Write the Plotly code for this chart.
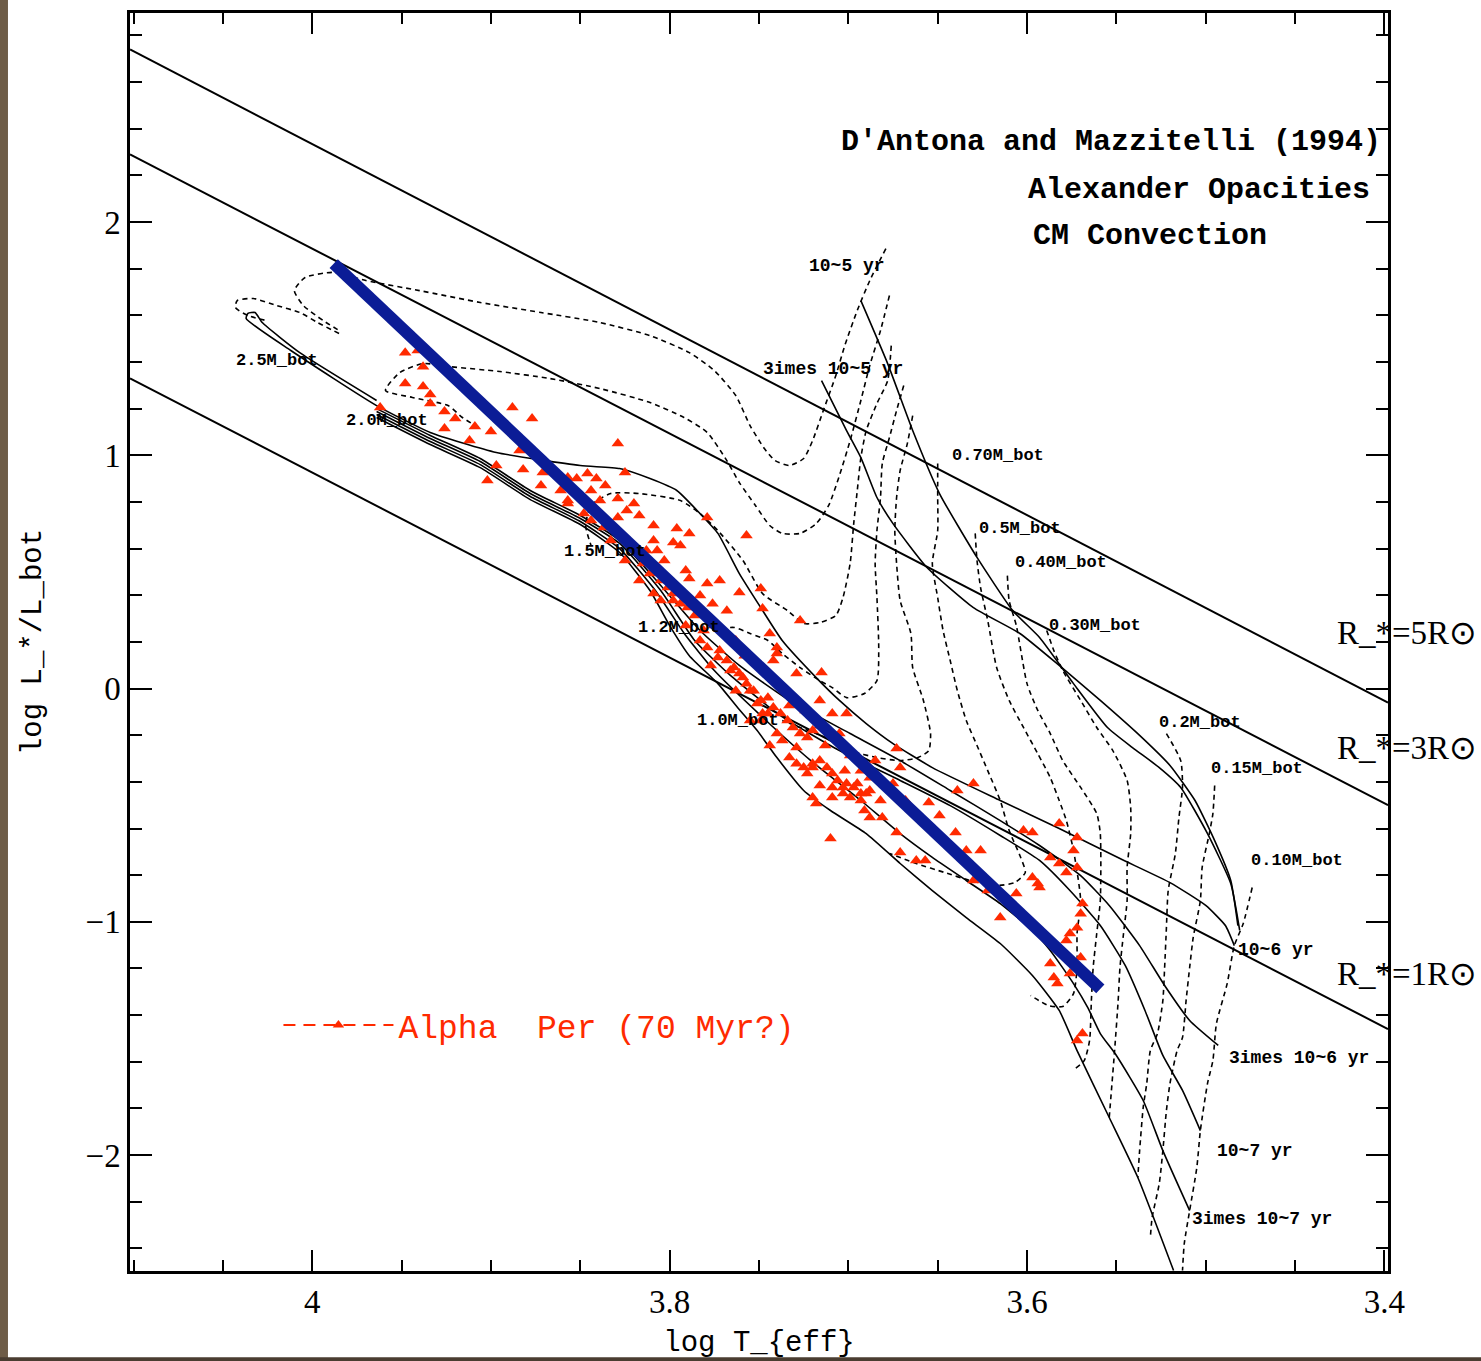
import plotly.graph_objects as go

# ---------------- data (log Teff, log L/Lsun) ----------------
# Alpha Per members
alpha_logT = [3.948,3.941,3.938,3.948,3.938,3.934,3.934,3.926,3.926,3.909,3.900,3.888,3.877,3.962,3.884,3.882,3.871,3.897,3.902,3.857,
              3.852,3.857,3.846,3.841,3.825,3.829,3.857,3.848,3.844,3.839,3.829,3.824,3.820,3.829,3.837,3.809,3.796,3.789,3.779,3.757,
              3.798,3.794,3.809,3.807,3.813,3.815,3.811,3.805,3.801,3.798,3.809,3.805,3.798,3.794,3.790,3.789,3.779,3.772,3.761,3.749,
              3.748,3.776,3.768,3.781,3.783,3.779,3.772,3.768,3.764,3.761,3.757,3.753,3.749,3.745,3.742,3.738,3.745,3.734,3.731,3.727,
              3.723,3.720,3.740,3.737,3.729,3.725,3.716,3.720,3.712,3.709,3.706,3.701,3.697,3.693,3.690,3.709,3.703,3.744,3.740,3.740,
              3.742,3.729,3.715,3.709,3.701,3.705,3.673,3.671,3.688,3.675,3.639,3.630,3.727,3.773,3.766,3.759,3.755,3.751,3.748,3.729,
              3.723,3.720,3.695,3.688,3.720,3.709,3.699,3.693,3.703,3.718,3.710,3.688,3.681,3.655,3.640,3.634,3.626,3.673,3.671,3.662,
              3.657,3.630,3.622,3.582,3.602,3.597,3.572,3.587,3.582,3.574,3.578,3.572,3.597,3.594,3.593,3.606,3.615,3.569,3.570,3.572,
              3.576,3.578,3.570,3.572,3.587,3.585,3.583,3.576,3.569,3.572,
              3.844,3.836,3.817,3.803,3.791,3.783,3.786,3.775,3.763,3.758,3.749,3.735,3.733,3.724,3.716,3.713,3.699,3.693,3.685,3.682,
              3.702,3.716,3.733,3.749,3.763,3.777,3.791,3.817,3.825,3.833,3.861,3.872,3.912,3.920,3.716,3.691,3.668,3.649,3.755,3.744]
alpha_logL = [1.440,1.449,1.380,1.308,1.295,1.260,1.222,1.188,1.115,1.123,1.102,1.205,1.158,1.205,1.020,0.939,0.926,0.956,0.892,0.793,
              0.900,0.905,0.922,0.900,0.926,1.050,0.806,0.750,0.720,0.806,0.815,0.763,0.793,0.733,0.690,0.699,0.686,0.665,0.733,0.656,
              0.626,0.613,0.635,0.592,0.592,0.536,0.493,0.463,0.433,0.407,0.407,0.377,0.377,0.364,0.347,0.472,0.450,0.463,0.412,0.429,
              0.343,0.364,0.334,0.249,0.206,0.176,0.163,0.120,0.090,0.064,0.021,-0.009,-0.051,-0.039,-0.081,-0.107,-0.107,-0.137,-0.167,-0.193,
              -0.210,-0.180,-0.193,-0.223,-0.253,-0.339,-0.309,-0.339,-0.339,-0.364,-0.394,-0.407,-0.424,-0.450,-0.450,-0.424,-0.450,0.236,0.176,0.150,
              0.120,0.064,0.069,-0.107,-0.107,-0.193,-0.257,-0.339,-0.382,-0.407,-0.437,-0.407,0.292,0.133,0.077,0.047,-0.009,-0.064,-0.107,-0.322,
              -0.364,-0.322,-0.407,-0.437,-0.467,-0.467,-0.467,-0.480,-0.424,-0.493,-0.643,-0.553,-0.553,-0.489,-0.617,-0.694,-0.694,-0.617,-0.703,-0.737,
              -0.737,-0.823,-0.866,-0.579,-0.609,-0.617,-0.639,-0.724,-0.750,-0.694,-0.789,-0.767,-0.810,-0.836,-0.853,-0.879,-0.982,-0.922,-0.965,-1.025,
              -1.050,-1.080,-1.153,-1.196,-1.179,-1.239,-1.265,-1.222,-1.479,-1.509,
              0.849,0.870,0.742,0.549,0.506,0.399,0.313,0.270,0.206,0.141,0.099,-0.009,-0.073,-0.094,-0.159,-0.244,-0.287,-0.352,-0.309,-0.480,
              -0.352,-0.416,-0.296,-0.137,-0.009,0.099,0.270,0.463,0.549,0.635,0.849,0.870,1.063,1.158,-0.051,-0.523,-0.480,-0.544,-0.137,-0.244]

# fitted straight line
fit_logT = [3.988, 3.559]
fit_logL = [1.822, -1.288]

# constant-radius lines (endpoints at the frame)
radius_logT = [4.102, 3.398]
radius_R5 = [2.74, -0.06]
radius_R3 = [2.29, -0.50]
radius_R1 = [1.33, -1.46]
radius_labels = ["R_*=5R\u2299", "R_*=3R\u2299", "R_*=1R\u2299"]
radius_label_logL = [0.240, -0.257, -1.222]

# evolutionary tracks (dashed): name -> (logT, logL)
tracks = {
    "2.5": ([3.679,3.688,3.695,3.702,3.707,3.714,3.720,3.725,3.733,3.741,3.747,3.755,3.763,3.775,3.789,3.811,3.839,3.872,3.906,3.940,3.970,3.988,4.004,4.010,4.005,3.994,3.985],
            [1.886,1.749,1.621,1.470,1.342,1.192,1.063,0.986,0.956,0.977,1.029,1.127,1.256,1.363,1.440,1.513,1.569,1.612,1.655,1.706,1.749,1.784,1.762,1.706,1.642,1.578,1.535]),
    "loop": ([3.985,3.997,4.007,4.020,4.033,4.042,4.043,4.036,4.026],
             [1.522,1.569,1.612,1.642,1.672,1.663,1.633,1.599,1.578]),
    "2.0": ([3.677,3.682,3.688,3.693,3.699,3.705,3.711,3.718,3.727,3.737,3.744,3.752,3.761,3.768,3.779,3.792,3.811,3.839,3.867,3.895,3.923,3.938,3.951,3.959,3.944,3.924,3.916,3.906],
            [1.685,1.535,1.385,1.235,1.063,0.913,0.785,0.707,0.665,0.665,0.699,0.785,0.883,0.977,1.098,1.162,1.226,1.286,1.329,1.359,1.380,1.393,1.355,1.278,1.248,1.213,1.162,1.115]),
    "1.5": ([3.676,3.678,3.684,3.690,3.693,3.695,3.697,3.699,3.703,3.707,3.716,3.725,3.734,3.748,3.759,3.773,3.783,3.794,3.817,3.833,3.844,3.847,3.844],
            [1.470,1.320,1.222,1.106,0.990,0.849,0.707,0.536,0.390,0.313,0.283,0.279,0.334,0.407,0.549,0.677,0.750,0.806,0.836,0.836,0.785,0.699,0.613]),
    "1.2": ([3.669,3.673,3.677,3.681,3.682,3.684,3.685,3.684,3.683,3.684,3.691,3.701,3.709,3.716,3.727,3.737,3.745,3.755,3.764,3.777],
            [1.299,1.192,1.076,0.965,0.819,0.677,0.536,0.390,0.176,0.034,-0.021,-0.039,0.004,0.034,0.090,0.150,0.206,0.236,0.262,0.249]),
    "1.0": ([3.664,3.667,3.671,3.673,3.674,3.673,3.671,3.665,3.664,3.658,3.654,3.655,3.661,3.671,3.684,3.699,3.709,3.718,3.727,3.737],
            [1.170,1.050,0.935,0.819,0.677,0.536,0.377,0.236,0.090,-0.051,-0.193,-0.266,-0.296,-0.309,-0.296,-0.266,-0.223,-0.193,-0.167,-0.137]),
    "0.7": ([3.650,3.650,3.650,3.653,3.650,3.647,3.643,3.639,3.634,3.628,3.622,3.615,3.610,3.604,3.601,3.607,3.618,3.632,3.646,3.662,3.677],
            [0.965,0.819,0.677,0.536,0.390,0.249,0.120,-0.009,-0.137,-0.244,-0.352,-0.480,-0.609,-0.716,-0.789,-0.832,-0.845,-0.823,-0.789,-0.750,-0.707]),
    "0.5": ([3.629,3.628,3.626,3.622,3.617,3.610,3.602,3.594,3.587,3.582,3.578,3.574,3.570,3.572,3.572,3.574,3.580,3.588,3.598],
            [0.665,0.549,0.433,0.292,0.090,-0.051,-0.167,-0.279,-0.382,-0.480,-0.566,-0.694,-0.909,-1.050,-1.196,-1.308,-1.363,-1.359,-1.316]),
    "0.4": ([3.611,3.610,3.606,3.600,3.594,3.587,3.580,3.570,3.561,3.559,3.559,3.561,3.563,3.564,3.565,3.568,3.573],
            [0.484,0.377,0.270,0.021,-0.094,-0.193,-0.309,-0.424,-0.536,-0.622,-0.909,-1.050,-1.196,-1.338,-1.509,-1.595,-1.629]),
    "0.3": ([3.589,3.585,3.580,3.570,3.561,3.552,3.544,3.542,3.542,3.544,3.544,3.546,3.548,3.549,3.551,3.554],
            [0.249,0.163,0.077,-0.051,-0.167,-0.266,-0.394,-0.510,-0.622,-0.767,-0.909,-1.050,-1.196,-1.338,-1.552,-1.839]),
    "0.2": ([3.522,3.514,3.513,3.515,3.517,3.521,3.522,3.523,3.524,3.527,3.531,3.533,3.535,3.537,3.538],
            [-0.193,-0.309,-0.424,-0.553,-0.707,-0.866,-1.025,-1.196,-1.338,-1.479,-1.552,-1.693,-1.796,-1.981,-2.096]),
    "0.15": ([3.495,3.496,3.498,3.502,3.503,3.507,3.509,3.511,3.513,3.516,3.520,3.522,3.524,3.526,3.530,3.531],
             [-0.416,-0.536,-0.622,-0.767,-0.909,-1.067,-1.196,-1.338,-1.496,-1.552,-1.693,-1.809,-1.981,-2.122,-2.268,-2.354]),
    "0.1": ([3.474,3.479,3.484,3.488,3.494,3.496,3.499,3.503,3.505,3.509,3.512,3.513],
            [-0.853,-1.007,-1.102,-1.265,-1.436,-1.595,-1.693,-1.895,-2.054,-2.238,-2.379,-2.495]),
}

# isochrones (solid)
isochrones = {
    "1e5": ([3.693,3.678,3.664,3.649,3.628,3.608,3.593,3.574,3.555,3.541,3.526,3.514,3.499,3.486,3.481],
            [1.663,1.393,1.106,0.836,0.562,0.334,0.219,0.021,-0.167,-0.253,-0.339,-0.424,-0.622,-0.836,-1.037]),
    "3e5": ([3.715,3.701,3.693,3.684,3.675,3.656,3.630,3.604,3.582,3.559,3.537,3.520,3.506,3.495,3.486,3.482],
            [1.320,1.106,0.990,0.819,0.707,0.519,0.347,0.236,0.099,-0.051,-0.201,-0.330,-0.480,-0.652,-0.823,-1.016]),
    "1e6": ([3.964,4.007,4.028,4.032,4.036,4.037,4.012,3.964,3.934,3.897,3.850,3.828,3.811,3.796,3.783,3.773,3.761,3.749,3.737,3.718,3.705,3.690,3.675,3.653,3.615,3.582,3.548,3.520,3.500,3.489,3.484],
            [1.235,1.440,1.569,1.612,1.608,1.586,1.449,1.213,1.098,1.012,0.956,0.943,0.900,0.849,0.750,0.665,0.493,0.347,0.206,0.047,-0.051,-0.150,-0.236,-0.339,-0.480,-0.600,-0.729,-0.832,-0.930,-1.016,-1.102]),
    "3e6": ([3.964,3.934,3.906,3.878,3.850,3.828,3.805,3.783,3.761,3.733,3.699,3.671,3.643,3.615,3.593,3.570,3.554,3.537,3.523,3.509,3.493],
            [1.200,1.085,0.986,0.849,0.742,0.635,0.442,0.249,0.099,-0.051,-0.193,-0.309,-0.437,-0.566,-0.673,-0.802,-0.930,-1.102,-1.273,-1.423,-1.530]),
    "1e7": ([3.964,3.934,3.906,3.878,3.850,3.828,3.805,3.786,3.766,3.738,3.705,3.671,3.643,3.615,3.593,3.576,3.559,3.545,3.534,3.524,3.513,3.503],
            [1.188,1.072,0.973,0.836,0.729,0.622,0.420,0.206,0.056,-0.116,-0.266,-0.394,-0.502,-0.630,-0.737,-0.866,-1.016,-1.188,-1.380,-1.573,-1.723,-1.895]),
    "3e7": ([3.964,3.934,3.906,3.878,3.850,3.828,3.808,3.791,3.775,3.749,3.721,3.693,3.671,3.653,3.634,3.615,3.597,3.587,3.574,3.566,3.559,3.550,3.535,3.524,3.509],
            [1.175,1.059,0.960,0.823,0.716,0.600,0.420,0.227,0.077,-0.116,-0.309,-0.480,-0.622,-0.724,-0.823,-0.922,-1.037,-1.123,-1.265,-1.368,-1.479,-1.573,-1.766,-1.981,-2.238]),
    "old": ([3.964,3.934,3.906,3.878,3.850,3.828,3.811,3.800,3.789,3.773,3.762,3.751,3.740,3.725,3.710,3.690,3.671,3.653,3.634,3.615,3.597,3.582,3.572,3.554,3.538,3.518],
            [1.162,1.046,0.947,0.810,0.703,0.583,0.420,0.270,0.141,0.021,-0.081,-0.180,-0.296,-0.437,-0.523,-0.622,-0.750,-0.866,-0.982,-1.093,-1.230,-1.380,-1.552,-1.839,-2.096,-2.495]),
}

# labels on tracks / isochrones
track_labels = ["2.5M_bot","2.0M_bot","1.5M_bot","1.2M_bot","1.0M_bot","0.70M_bot","0.5M_bot","0.40M_bot","0.30M_bot","0.2M_bot","0.15M_bot","0.10M_bot"]
track_label_logT = [4.044,3.982,3.860,3.819,3.786,3.643,3.628,3.608,3.589,3.527,3.498,3.476]
track_label_logL = [1.406,1.149,0.587,0.262,-0.137,0.999,0.686,0.540,0.270,-0.146,-0.343,-0.737]

iso_labels = ["10~5 yr","3imes 10~5 yr","10~6 yr","3imes 10~6 yr","10~7 yr","3imes 10~7 yr"]
iso_label_logT = [3.723,3.749,3.483,3.488,3.495,3.509]
iso_label_logL = [1.813,1.372,-1.123,-1.582,-1.981,-2.272]

x_ticks = [4.0, 3.8, 3.6, 3.4]
y_ticks = [-2, -1, 0, 1, 2]

# ---------------- figure ----------------
fig = go.Figure()

for yv in (radius_R5, radius_R3, radius_R1):
    fig.add_trace(go.Scatter(x=radius_logT, y=yv, mode="lines",
                             line=dict(color="black", width=2), showlegend=False, hoverinfo="skip"))

for name, (xs, ys) in tracks.items():
    fig.add_trace(go.Scatter(x=xs, y=ys, mode="lines",
                             line=dict(color="black", width=1.6, dash="5px,4px", shape="spline", smoothing=0.6),
                             showlegend=False, hoverinfo="skip"))

for name, (xs, ys) in isochrones.items():
    fig.add_trace(go.Scatter(x=xs, y=ys, mode="lines",
                             line=dict(color="black", width=1.6, shape="spline", smoothing=0.5),
                             showlegend=False, hoverinfo="skip"))

fig.add_trace(go.Scatter(x=alpha_logT, y=alpha_logL, mode="markers",
                         marker=dict(symbol="triangle-up", size=11, color="#ff2a00", line=dict(width=0)),
                         showlegend=False))

fig.add_trace(go.Scatter(x=fit_logT, y=fit_logL, mode="lines",
                         line=dict(color="#0b1c96", width=12), showlegend=False))

# legend key
fig.add_trace(go.Scatter(x=[None], y=[None], mode="lines+markers", name="Alpha  Per (70 Myr?)",
                         marker=dict(symbol="triangle-up", size=10, color="#ff2a00"),
                         line=dict(color="#ff2a00", width=2, dash="12px,8px")))

small_font = dict(family="Liberation Mono", size=17, color="black")
for t, x, y in zip(track_labels, track_label_logT, track_label_logL):
    fig.add_annotation(x=x, y=y, text="<b>%s</b>" % t, showarrow=False, xanchor="left", yanchor="middle",
                       font=small_font)
for t, x, y in zip(iso_labels, iso_label_logT, iso_label_logL):
    fig.add_annotation(x=x, y=y, text="<b>%s</b>" % t, showarrow=False, xanchor="left", yanchor="middle",
                       font=dict(family="Liberation Mono", size=18, color="black"))

big_font = dict(family="Liberation Mono", size=30, color="black")
fig.add_annotation(x=3.401, y=2.341, text="<b>D'Antona and Mazzitelli (1994)</b>", showarrow=False,
                   xanchor="right", yanchor="middle", font=big_font)
fig.add_annotation(x=3.407, y=2.139, text="<b>Alexander Opacities</b>", showarrow=False,
                   xanchor="right", yanchor="middle", font=big_font)
fig.add_annotation(x=3.598, y=1.938, text="<b>CM Convection</b>", showarrow=False,
                   xanchor="left", yanchor="middle", font=big_font)

for t, y in zip(radius_labels, radius_label_logL):
    fig.add_annotation(xref="paper", x=0.958, y=y, text=t, showarrow=False, xanchor="left", yanchor="middle",
                       font=dict(family="Liberation Serif", size=33, color="black"))

# brown photo border strips
fig.add_shape(type="rect", xref="paper", yref="paper", x0=-0.1034, x1=-0.0970, y0=-0.0716, y1=1.0104,
              fillcolor="#6e5c47", line_width=0, layer="above")
fig.add_shape(type="rect", xref="paper", yref="paper", x0=-0.1034, x1=1.08, y0=-0.0716, y1=-0.0686,
              fillcolor="#4a3d31", line_width=0, layer="above")

tick_font = dict(family="Liberation Serif", size=33, color="black")
title_font = dict(family="Liberation Mono", size=29, color="black")
fig.update_xaxes(range=[4.102, 3.398], tickvals=x_ticks, ticktext=["4", "3.8", "3.6", "3.4"],
                 ticks="inside", ticklen=21, tickwidth=2, tickcolor="black",
                 minor=dict(dtick=0.05, tick0=3.4, ticks="inside", ticklen=11, tickwidth=2, tickcolor="black"),
                 showline=True, linewidth=2.5, linecolor="black", mirror="allticks",
                 showgrid=False, zeroline=False, tickfont=tick_font,
                 title=dict(text="log T_{eff}", font=title_font, standoff=12))
fig.update_yaxes(range=[-2.497, 2.896], tickvals=y_ticks, ticktext=["\u22122", "\u22121", "0", "1", "2"],
                 ticks="inside", ticklen=22, tickwidth=2, tickcolor="black",
                 minor=dict(dtick=0.2, tick0=0, ticks="inside", ticklen=12, tickwidth=2, tickcolor="black"),
                 showline=True, linewidth=2.5, linecolor="black", mirror="allticks",
                 showgrid=False, zeroline=False, tickfont=tick_font,
                 title=dict(text="log L_*/L_bot", font=title_font, standoff=36))

fig.update_layout(width=1481, height=1361, margin=dict(l=130, r=93, t=13, b=90, autoexpand=False),
                  paper_bgcolor="white", plot_bgcolor="white",
                  legend=dict(x=0.118, y=0.1956, xanchor="left", yanchor="middle", bgcolor="rgba(0,0,0,0)",
                              itemwidth=110, font=dict(family="Liberation Mono", size=33, color="#ff2a00")))

fig.write_html("out.html")
